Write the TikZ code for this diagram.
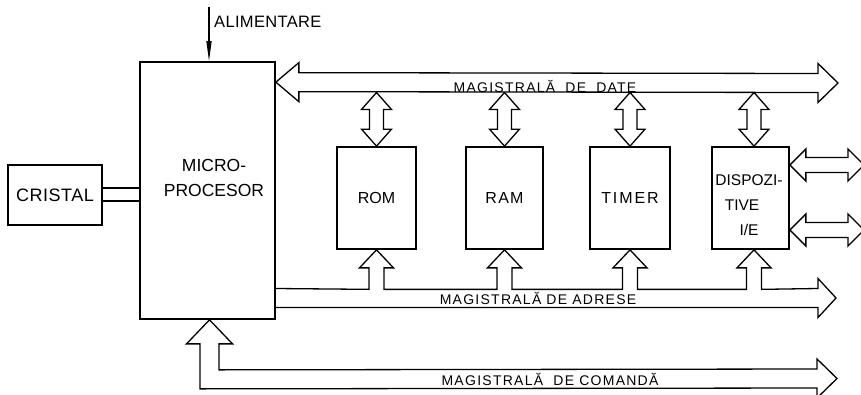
\documentclass[tikz,border=0pt]{standalone}
\usepackage{fontspec}
\setmainfont{Liberation Sans}
\newfontfamily\busfont[LetterSpace=9]{Liberation Sans}
\newfontfamily\boxfontA[LetterSpace=3]{Liberation Sans}
\newfontfamily\boxfontB[LetterSpace=8]{Liberation Sans}
\newfontfamily\boxfontC[LetterSpace=12]{Liberation Sans}
\newfontfamily\boxfontD[LetterSpace=2]{Liberation Sans}
\usetikzlibrary{arrows.meta,calc}
% vertical double block arrow between two named points (#1 top, #2 bottom)
\newcommand{\vdbl}[2]{\draw[bus] (#1) -- ($(#1)+(15,17)$) -- ($(#1)+(7,17)$) -- ($(#2)+(7,-17)$) -- ($(#2)+(15,-17)$) -- (#2) -- ($(#2)+(-15,-17)$) -- ($(#2)+(-7,-17)$) -- ($(#1)+(-7,17)$) -- ($(#1)+(-15,17)$) -- cycle;}
% horizontal double block arrow between two named points (#1 left, #2 right)
\newcommand{\hdbl}[2]{\draw[bus] (#1) -- ($(#1)+(16,-16)$) -- ($(#1)+(16,-7.5)$) -- ($(#2)+(-16,-7.5)$) -- ($(#2)+(-16,-16)$) -- (#2) -- ($(#2)+(-16,16)$) -- ($(#2)+(-16,7.5)$) -- ($(#1)+(16,7.5)$) -- ($(#1)+(16,16)$) -- cycle;}
\begin{document}
\begin{tikzpicture}[x=1pt,y=-1pt,
  blk/.style={draw, line width=1.7pt, inner sep=0pt, font=\fontsize{16}{19}\selectfont},
  bus/.style={draw, line width=1.3pt, line join=miter},
  buslbl/.style={font=\busfont\fontsize{14}{16}\selectfont, inner sep=0pt},
  txt/.style={align=center, inner sep=0pt}]
\useasboundingbox (0,0) rectangle (861,394);

% blocks
\node[blk, minimum width=94pt, minimum height=60pt, font=\boxfontA\fontsize{18}{21}\selectfont] (cristal) at (55,195) {CRISTAL};
\node[blk, minimum width=135pt, minimum height=257pt] (micro) at (207.5,190.5) {};
\node[txt, font=\fontsize{17.5}{24.5}\selectfont] (microtxt) at (214,178) {MICRO-\\PROCESOR};
\node[blk, minimum width=79pt, minimum height=102pt] (rom) at (376.5,198) {ROM};
\node[blk, minimum width=77pt, minimum height=102pt, font=\boxfontB\fontsize{16}{19}\selectfont] (ram) at (504.5,198) {RAM};
\node[blk, minimum width=80pt, minimum height=102pt, font=\boxfontC\fontsize{16}{19}\selectfont] (timer) at (630,198) {TIMER};
\node[blk, minimum width=77pt, minimum height=102pt] (disp) at (750.5,198) {};
\node[txt, font=\fontsize{15.5}{25}\selectfont] (disptxt) at (749,205) {DISPOZI-\\\hspace*{-14pt}TIVE\\I/E};

% crystal link
\draw[line width=1.3pt] ([yshift=7pt]cristal.east) -- ([yshift=7pt]cristal.east -| micro.west);
\draw[line width=1.3pt] ([yshift=-6pt]cristal.east) -- ([yshift=-6pt]cristal.east -| micro.west);

% power supply
\coordinate (alt) at ($(micro.north)+(1.5,-54)$);
\draw[line width=1.3pt, -{Triangle[length=20pt,width=5pt]}] (alt) -- ([xshift=1.5pt]micro.north);
\node[anchor=west, font=\boxfontD\fontsize{16.5}{19}\selectfont, inner sep=0pt] (alim) at (214,21.5) {ALIMENTARE};

% data bus
\coordinate (dL) at ($(micro.north east)+(0,21)$);
\coordinate (dR) at (838,83);
\coordinate (dbb) at (0,92.5);
\draw[bus] (dL) -- ++(23,-19.5) -- ++(0,10) -- ($(dR)+(-20,-9.5)$) -- ++(0,-10) -- (dR) -- ($(dR)+(-20,19.5)$) -- ++(0,-10) -- ($(dL)+(23,9.5)$) -- ++(0,10) -- cycle;
\node[buslbl] (dlbl) at (545,86.5) {MAGISTRALĂ\hspace{5pt} DE\hspace{5pt} DATE};

\coordinate (romt) at (rom.north |- dbb);
\coordinate (ramt) at (ram.north |- dbb);
\coordinate (timert) at (timer.north |- dbb);
\coordinate (dispn) at ([xshift=3.5pt]disp.north);
\coordinate (dispt) at (dispn |- dbb);
\vdbl{romt}{rom.north}
\vdbl{ramt}{ram.north}
\vdbl{timert}{timer.north}
\vdbl{dispt}{dispn}

% address bus
\coordinate (at) at (0,288.5);
\coordinate (ab) at (0,307.5);
\coordinate (aR) at (836,298);
\coordinate (disps) at ([xshift=3.5pt]disp.south);
\draw[bus] (micro.east |- at) foreach \b in {rom.south,ram.south,timer.south,disps} { -- ($(\b)+(-7.5,39.5)$) -- ($(\b)+(-7.5,18)$) -- ($(\b)+(-17,18)$) -- (\b) -- ($(\b)+(17,18)$) -- ($(\b)+(7.5,18)$) -- ($(\b)+(7.5,39.5)$) } -- ($(aR)+(-18,-9.5)$) -- ++(0,-10) -- (aR) -- ($(aR)+(-18,19.5)$) -- ++(0,-10) -- (micro.east |- ab);
\node[buslbl] (albl) at (538,298) {MAGISTRALĂ DE ADRESE};

% command bus
\coordinate (ct) at ([xshift=2pt]micro.south);
\coordinate (cR) at (837,378.5);
\draw[bus] (ct) -- ($(ct)+(23,24)$) -- ($(ct)+(9.5,24)$) -- ($(ct)+(9.5,50)$) -- ($(cR)+(-20,-9.5)$) -- ++(0,-10) -- (cR) -- ($(cR)+(-20,19.5)$) -- ++(0,-10) -- ($(ct)+(-9.5,69)$) -- ($(ct)+(-9.5,24)$) -- ($(ct)+(-23,24)$) -- cycle;
\node[buslbl] (clbl) at (550,379.5) {MAGISTRALĂ\ \ DE COMANDĂ};

% I/O ports
\coordinate (io1) at ([yshift=33pt]disp.east);
\coordinate (io1r) at (864,165);
\coordinate (io2) at ([yshift=-32pt]disp.east);
\coordinate (io2r) at (864,230);
\hdbl{io1}{io1r}
\hdbl{io2}{io2r}
\end{tikzpicture}
\end{document}
